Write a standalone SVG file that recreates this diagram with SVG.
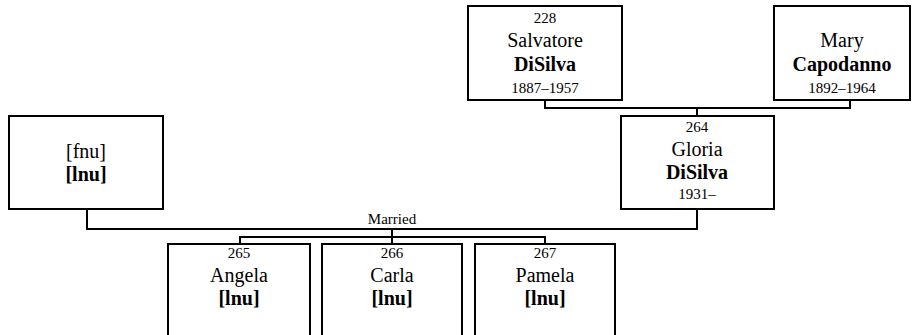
<svg xmlns="http://www.w3.org/2000/svg" width="915" height="335" viewBox="0 0 915 335">
<style>
  .box { fill: #fff; stroke: #000; stroke-width: 2; }
  .ln { fill: none; stroke: #000; stroke-width: 2; }
  text { font-family: "Liberation Serif", "Times New Roman", serif; fill: #000; text-anchor: middle; }
  .num { font-size: 15px; }
  .nm { font-size: 20px; }
  .sn { font-size: 20px; font-weight: bold; }
  .lbl { font-size: 15px; }
</style>
<rect width="915" height="335" fill="#fff"/>
<g id="connectors">
  <polyline class="ln" points="545,100 545,108 850,108 850,100"/>
  <line class="ln" x1="697" y1="108" x2="697" y2="116"/>
  <polyline class="ln" points="87,209 87,229 697,229 697,209"/>
  <line class="ln" x1="392" y1="229" x2="392" y2="237"/>
  <polyline class="ln" points="240,244 240,237 545,237 545,244"/>
  <line class="ln" x1="392" y1="237" x2="392" y2="244"/>
  <text class="lbl" x="392" y="224">Married</text>
</g>
<g id="salvatore">
  <rect class="box" x="468" y="6" width="154" height="94"/>
  <text class="num" x="545" y="23">228</text>
  <text class="nm" x="545" y="47">Salvatore</text>
  <text class="sn" x="545" y="71">DiSilva</text>
  <text class="num" x="545" y="93">1887–1957</text>
</g>
<g id="mary">
  <rect class="box" x="774" y="6" width="136" height="94"/>
  <text class="nm" x="842" y="47">Mary</text>
  <text class="sn" x="842" y="71">Capodanno</text>
  <text class="num" x="842" y="93">1892–1964</text>
</g>
<g id="fnu">
  <rect class="box" x="9" y="116" width="154" height="93"/>
  <text class="nm" x="86" y="158">[fnu]</text>
  <text class="sn" x="86" y="181">[lnu]</text>
</g>
<g id="gloria">
  <rect class="box" x="621" y="116" width="153" height="93"/>
  <text class="num" x="697" y="132">264</text>
  <text class="nm" x="697" y="156">Gloria</text>
  <text class="sn" x="697" y="179">DiSilva</text>
  <text class="num" x="697" y="199">1931–</text>
</g>
<g id="angela">
  <rect class="box" x="168" y="244" width="142" height="110"/>
  <text class="num" x="239" y="258">265</text>
  <text class="nm" x="239" y="282">Angela</text>
  <text class="sn" x="239" y="305">[lnu]</text>
</g>
<g id="carla">
  <rect class="box" x="322" y="244" width="140" height="110"/>
  <text class="num" x="392" y="258">266</text>
  <text class="nm" x="392" y="282">Carla</text>
  <text class="sn" x="392" y="305">[lnu]</text>
</g>
<g id="pamela">
  <rect class="box" x="475" y="244" width="140" height="110"/>
  <text class="num" x="545" y="258">267</text>
  <text class="nm" x="545" y="282">Pamela</text>
  <text class="sn" x="545" y="305">[lnu]</text>
</g>
</svg>
